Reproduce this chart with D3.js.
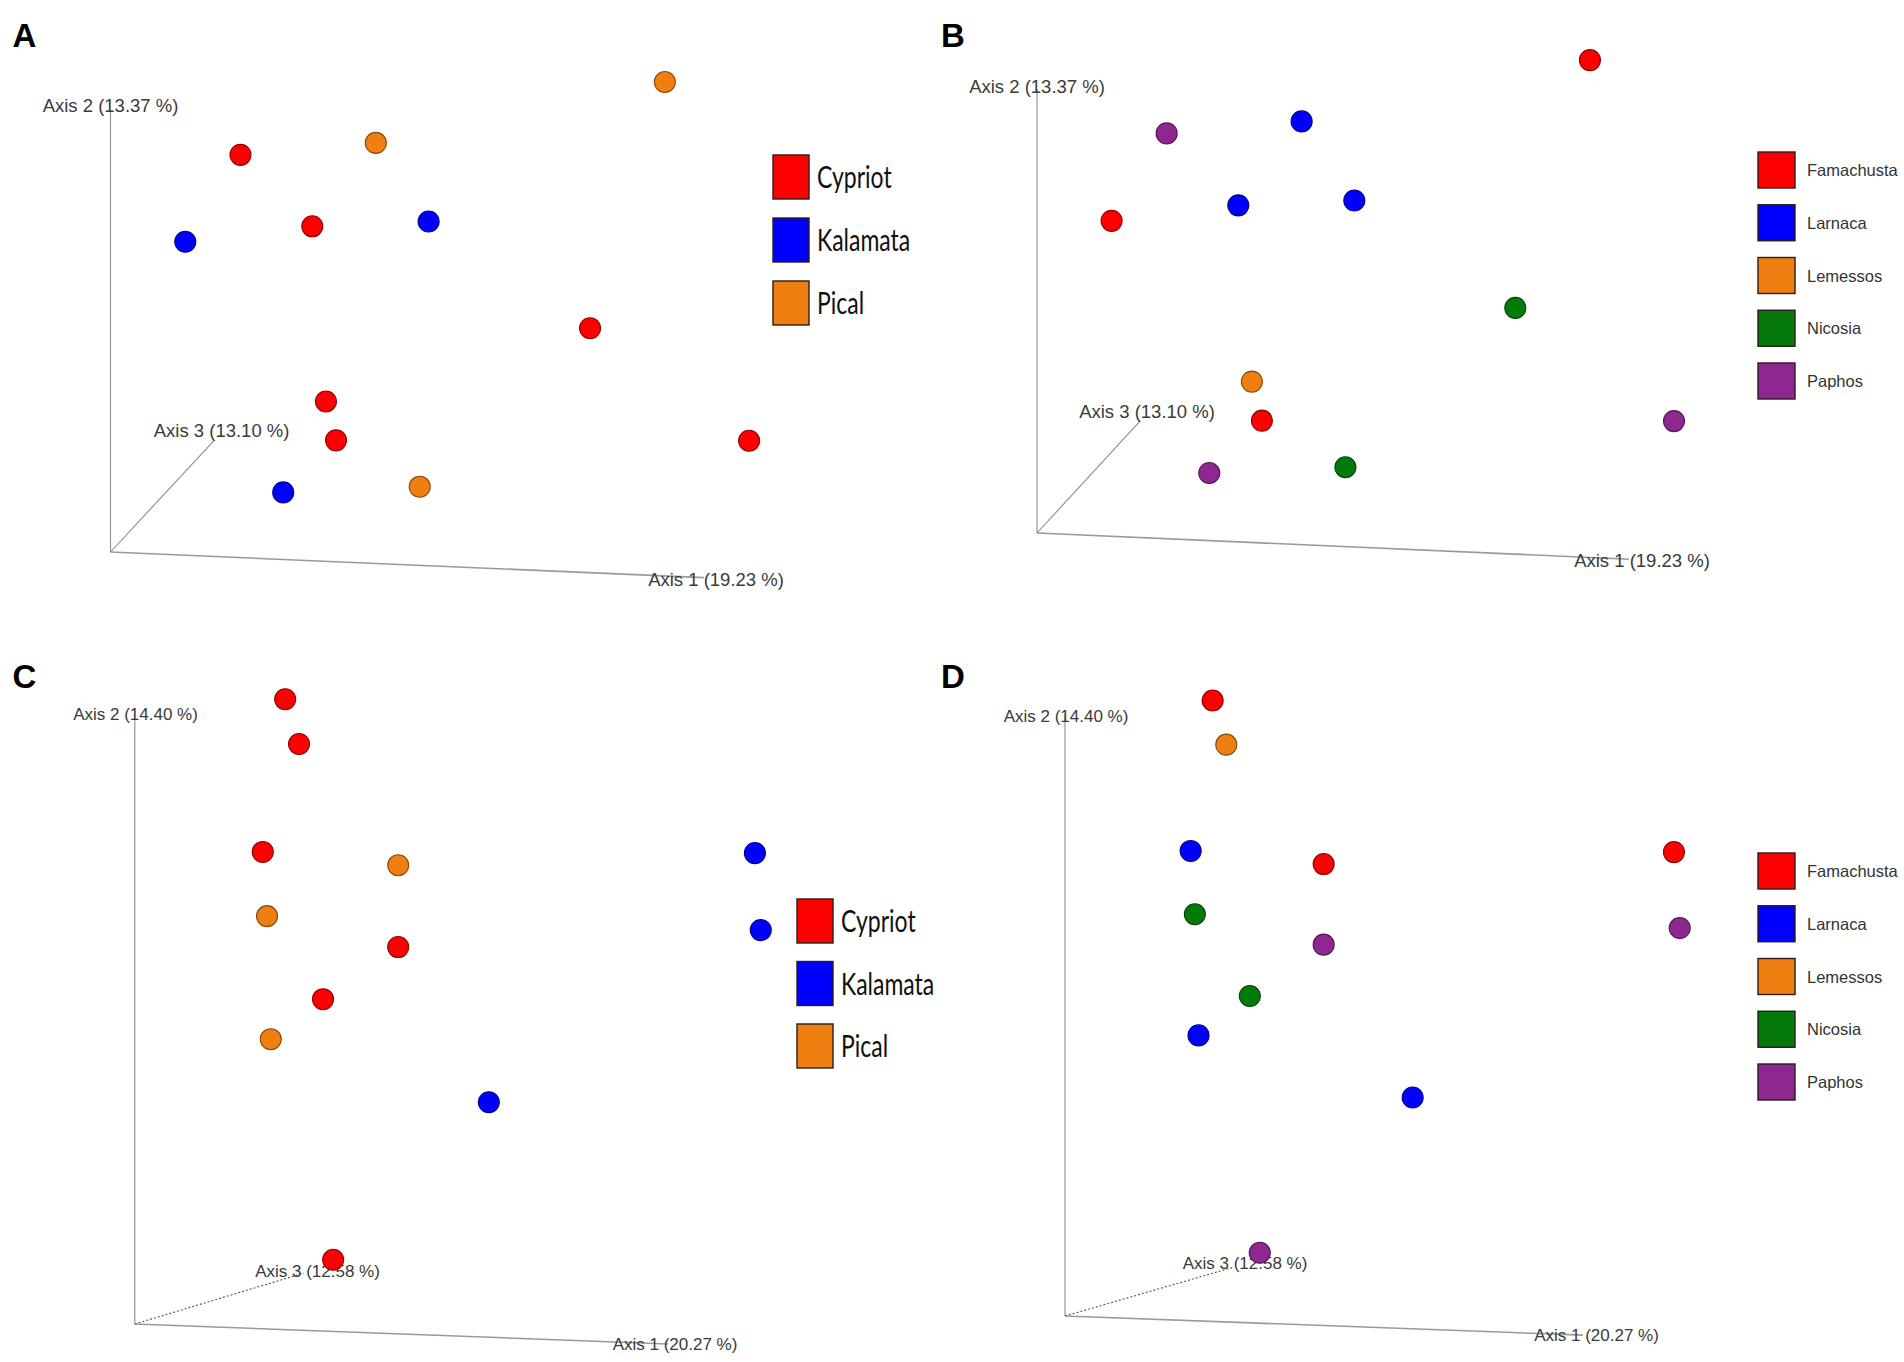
<!DOCTYPE html>
<html>
<head>
<meta charset="utf-8">
<script src="https://cdn.jsdelivr.net/npm/d3@7"></script>
<style>
  html, body { margin: 0; padding: 0; background: #fff; }
  svg { display: block; }
</style>
</head>
<body>
<svg id="chart" width="1904" height="1362"></svg>
<script>
// ---------------- DATA ----------------
const varietyGroups = ["Cypriot", "Kalamata", "Pical"];
const regionGroups = ["Famachusta", "Larnaca", "Lemessos", "Nicosia", "Paphos"];

// PCoA projected coordinates (panels A & B share the same samples)
const axis1AB = [93.4, 21.9, 44.7, 12.6, 34.0, 53.6, 80.8, 36.3, 38.0, 107.6, 29.1, 52.1];
const axis2AB = [106.5, 90.0, 92.7, 70.3, 73.8, 74.9, 50.7, 34.1, 25.3, 25.2, 13.5, 14.8];
const groupA = ["Pical", "Cypriot", "Pical", "Kalamata", "Cypriot", "Kalamata", "Cypriot", "Cypriot", "Cypriot", "Cypriot", "Kalamata", "Pical"];
const groupB = ["Famachusta", "Paphos", "Larnaca", "Famachusta", "Larnaca", "Larnaca", "Nicosia", "Lemessos", "Famachusta", "Paphos", "Paphos", "Nicosia"];

// panels C & D share the same samples
const axis1CD = [28.2, 30.8, 24.0, 49.4, 116.3, 24.8, 117.4, 49.4, 35.3, 25.5, 66.4, 37.2];
const axis2CD = [103.1, 95.7, 77.9, 75.7, 77.7, 67.3, 65.0, 62.2, 53.6, 47.0, 36.6, 10.6];
const groupC = ["Cypriot", "Cypriot", "Cypriot", "Pical", "Kalamata", "Pical", "Kalamata", "Cypriot", "Cypriot", "Pical", "Kalamata", "Cypriot"];
const groupD = ["Famachusta", "Lemessos", "Larnaca", "Famachusta", "Famachusta", "Nicosia", "Paphos", "Paphos", "Nicosia", "Larnaca", "Larnaca", "Paphos"];

const axisTitlesAB = ["Axis 1 (19.23 %)", "Axis 2 (13.37 %)", "Axis 3 (13.10 %)"];
const axisTitlesCD = ["Axis 1 (20.27 %)", "Axis 2 (14.40 %)", "Axis 3 (12.58 %)"];
const panelLetters = ["A", "B", "C", "D"];

// ---------------- STYLE ----------------
const varietyColor = d3.scaleOrdinal().domain(varietyGroups).range(["#ff0000", "#0000ff", "#f07f12"]);
const regionColor = d3.scaleOrdinal().domain(regionGroups).range(["#ff0000", "#0000ff", "#f07f12", "#037a0a", "#8e278f"]);

const panels = [
  { letter: "A", lx: 24.5, ly: 35, x: axis1AB, y: axis2AB, g: groupA, color: varietyColor, cats: varietyGroups, titles: axisTitlesAB,
    origin: [110.5, 552], kx: 5.935, ky: 4.413, ax1: [100, -5.8], ax2: [0, 100], ax3: [17.4, 25.2], dotted3: false,
    lab1: [716, 579], lab2: [110.5, 105], lab3: [221.6, 430.5], labSize: 18.5,
    legend: { x: 773, y: 155, w: 36, h: 44, step: 63, tx: 817, big: true } },
  { letter: "B", lx: 953, ly: 35, x: axis1AB, y: axis2AB, g: groupB, color: regionColor, cats: regionGroups, titles: axisTitlesAB,
    origin: [1037, 533], kx: 5.92, ky: 4.44, ax1: [100, -5.9], ax2: [0, 100], ax3: [17.4, 25.2], dotted3: false,
    lab1: [1642, 560], lab2: [1037, 86], lab3: [1147, 411.5], labSize: 18.5,
    legend: { x: 1758, y: 152, w: 37, h: 36, step: 52.75, tx: 1807, big: false } },
  { letter: "C", lx: 24.5, ly: 676, x: axis1CD, y: axis2CD, g: groupC, color: varietyColor, cats: varietyGroups, titles: axisTitlesCD,
    origin: [134.8, 1324], kx: 5.332, ky: 6.06, ax1: [100, -3.3], ax2: [0, 100], ax3: [31.7, 8.4], dotted3: true,
    lab1: [675, 1344], lab2: [135.5, 714.5], lab3: [317.5, 1271], labSize: 17,
    legend: { x: 797, y: 899, w: 36, h: 44, step: 62.5, tx: 841, big: true } },
  { letter: "D", lx: 953, ly: 676, x: axis1CD, y: axis2CD, g: groupD, color: regionColor, cats: regionGroups, titles: axisTitlesCD,
    origin: [1065, 1316], kx: 5.236, ky: 5.97, ax1: [98.9, -3.2], ax2: [0, 100.8], ax3: [32.3, 8.2], dotted3: true,
    lab1: [1596.5, 1335], lab2: [1066, 716], lab3: [1245, 1263], labSize: 17,
    legend: { x: 1758, y: 853, w: 37, h: 36, step: 52.75, tx: 1807, big: false } }
];

const svg = d3.select("#chart");

panels.forEach(p => {
  const xs = d3.scaleLinear().domain([0, 100]).range([p.origin[0], p.origin[0] + 100 * p.kx]);
  const ys = d3.scaleLinear().domain([0, 100]).range([p.origin[1], p.origin[1] - 100 * p.ky]);
  const g = svg.append("g");

  // panel letter
  g.append("text").attr("x", p.lx).attr("y", p.ly)
    .attr("text-anchor", "middle").attr("dominant-baseline", "central")
    .attr("font-family", "Liberation Sans, Arial, sans-serif").attr("font-weight", "bold")
    .attr("font-size", 33).attr("fill", "#000").text(p.letter);

  // axes
  const ends = [p.ax1, p.ax2, p.ax3];
  ends.forEach((e, i) => {
    const line = g.append("line")
      .attr("x1", xs(0)).attr("y1", ys(0))
      .attr("x2", xs(e[0])).attr("y2", ys(e[1]))
      .attr("stroke", i === 0 ? "#9a9a9a" : (i === 2 && p.dotted3 ? "#555" : "#8c8c8c"))
      .attr("stroke-width", i === 0 ? 1.6 : 1.1);
    if (i === 2 && p.dotted3) line.attr("stroke-dasharray", "2,2");
  });

  // axis titles
  const labs = [p.lab1, p.lab2, p.lab3];
  labs.forEach((l, i) => {
    g.append("text").attr("x", l[0]).attr("y", l[1])
      .attr("text-anchor", "middle").attr("dominant-baseline", "central")
      .attr("font-family", "Liberation Sans, Arial, sans-serif")
      .attr("font-size", p.labSize).attr("fill", "#3a3a3a")
      .text(p.titles[i]);
  });

  // points
  const pts = p.x.map((v, i) => ({ a1: v, a2: p.y[i], grp: p.g[i] }));
  g.selectAll("circle.pt").data(pts).join("circle")
    .attr("class", "pt")
    .attr("cx", d => xs(d.a1)).attr("cy", d => ys(d.a2))
    .attr("r", 10.5)
    .attr("fill", d => p.color(d.grp))
    .attr("stroke", d => d3.color(p.color(d.grp)).darker(1.6))
    .attr("stroke-width", 1.1);

  // legend
  const L = p.legend;
  const lg = g.append("g");
  p.cats.forEach((c, i) => {
    const y0 = L.y + i * L.step;
    lg.append("rect").attr("x", L.x).attr("y", y0).attr("width", L.w).attr("height", L.h)
      .attr("fill", p.color(c)).attr("stroke", "#2d1a1a").attr("stroke-width", 1.4);
    const cy = y0 + L.h / 2;
    if (L.big) {
      lg.append("text")
        .attr("transform", `translate(${L.tx},${cy}) scale(1,1.3)`)
        .attr("dominant-baseline", "central")
        .attr("font-family", "Lato, Carlito, sans-serif")
        .attr("font-size", 23).attr("fill", "#111").text(c);
    } else {
      lg.append("text").attr("x", L.tx).attr("y", cy)
        .attr("dominant-baseline", "central")
        .attr("font-family", "Liberation Sans, Arial, sans-serif")
        .attr("font-size", 16.5).attr("fill", "#333").text(c);
    }
  });
});
</script>
</body>
</html>
